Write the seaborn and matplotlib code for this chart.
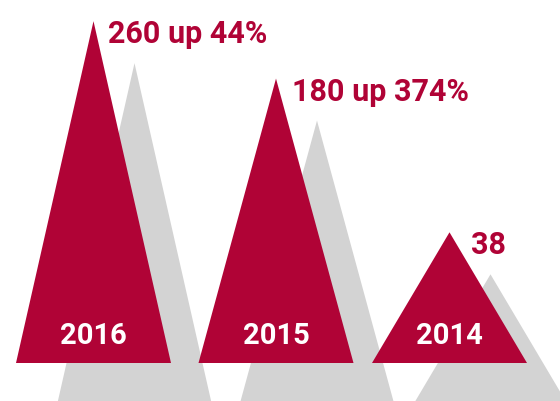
import numpy as np
import matplotlib
matplotlib.use("Agg")
import matplotlib.pyplot as plt
import seaborn as sns

# ---- data ----
years = ["2016", "2015", "2014"]
values = [260, 180, 38]
value_labels = ["260 up 44%", "180 up 374%", "38"]

# ---- layout / style ----
RED = "#B00336"
GRAY = "#D3D3D3"
W, H = 560, 402
centers = [93.5, 276, 449.5]      # pixel x centres of triangles
half_w = 77.5                      # half base width (px)
base_px = 38                       # baseline height from bottom (px)
k = 21.2                           # px per sqrt(value)
shadow_dx, shadow_dy = 41, 42      # shadow offset (px)
label_dx = [15, 16, 22]

sns.set_theme(style="white")
plt.rcParams["font.family"] = ["Roboto", "DejaVu Sans"]

fig = plt.figure(figsize=(W / 100, H / 100), dpi=100)
ax = fig.add_axes([0, 0, 1, 1])
# y axis in sqrt(value) units; x axis in pixels
ax.set_xlim(0, W)
ax.set_ylim(-base_px / k, (H - base_px) / k)
ax.set_axis_off()

sy = shadow_dy / k
for c, v in zip(centers, values):
    h = np.sqrt(v)
    xs = [c - half_w, c, c + half_w]
    ys = [0, h, 0]
    ax.fill([x + shadow_dx for x in xs], [y - sy for y in ys], color=GRAY, lw=0, zorder=1)
for c, v, yr, lab, dx in zip(centers, values, years, value_labels, label_dx):
    h = np.sqrt(v)
    ax.fill([c - half_w, c, c + half_w], [0, h, 0], color=RED, lw=0, zorder=2)
    ax.text(c, 20 / k, yr, color="white", fontsize=21, fontweight="bold",
            ha="center", va="baseline", zorder=3)
    ax.text(c + dx, h - 21 / k, lab, color=RED, fontsize=22,
            fontweight="bold", ha="left", va="baseline", zorder=3)

fig.savefig("out.png", dpi=100)
